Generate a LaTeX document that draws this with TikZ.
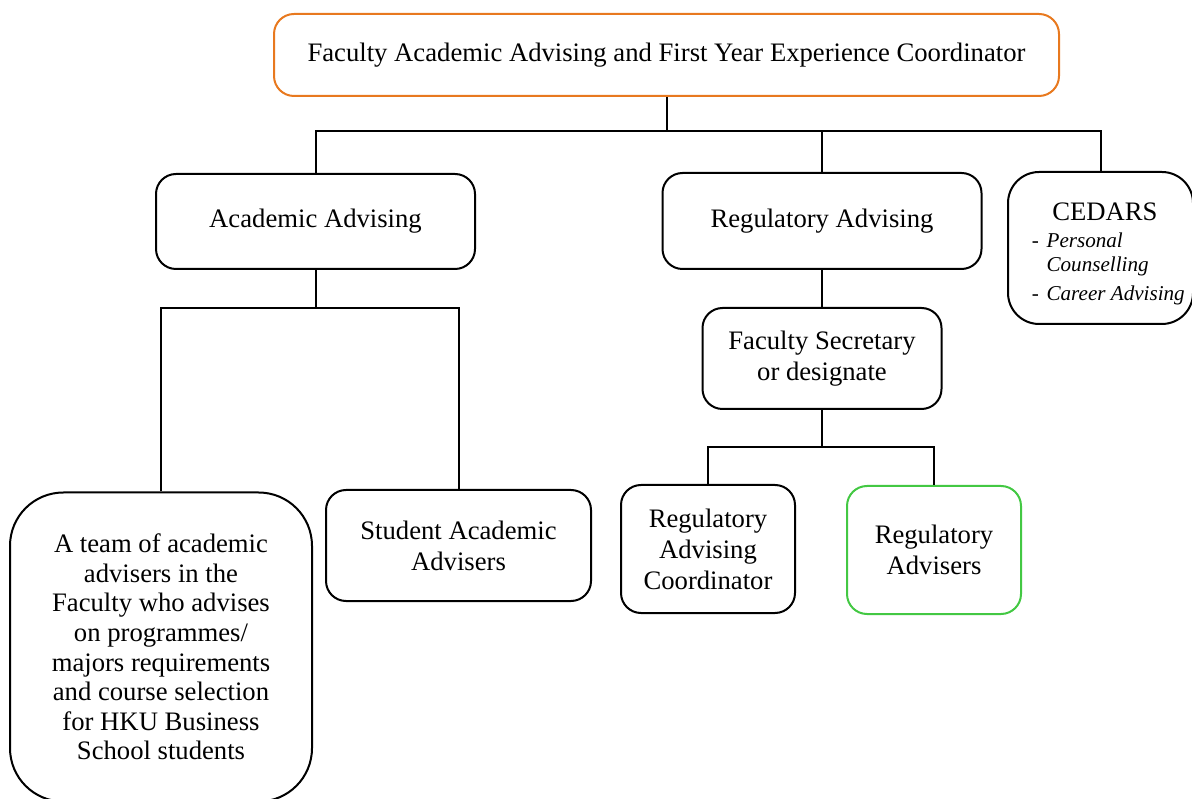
\documentclass[tikz,border=0pt]{standalone}
\usepackage{fontspec}
\setmainfont{Liberation Serif}
\usetikzlibrary{positioning}
\newcommand{\pxl}[1]{#1*0.45pt}
\definecolor{leadorange}{HTML}{E8791F}
\definecolor{advgreen}{HTML}{43C843}
\tikzset{
  orgbox/.style={draw,line width=0.9pt,rounded corners=9pt,align=center,inner sep=2pt,
    font=\fontsize{12}{14}\selectfont},
  link/.style={line width=0.9pt}
}
\begin{document}
\begin{tikzpicture}[x=0.45pt,y=-0.45pt]
\useasboundingbox(0,0)rectangle(1192,799);
% top of the chart
\node[orgbox,draw=leadorange,minimum width=\pxl{785},minimum height=\pxl{82}](lead)at(666.5,55)
  {Faculty Academic Advising and First Year Experience Coordinator};
\node[orgbox,minimum width=\pxl{319},minimum height=\pxl{95}](acad)at(315.5,221.5){Academic Advising};
\node[orgbox,minimum width=\pxl{319},minimum height=\pxl{96}](reg)at(822,221){Regulatory Advising};
\node[orgbox,rounded corners=14pt,minimum width=\pxl{185},minimum height=\pxl{152}](cedars)at(1100.5,248)
  {\rule{0pt}{14.5pt}\hspace*{4pt}CEDARS\\[-2pt]\hspace*{7pt}{\fontsize{9.5}{11}\selectfont\begin{tabular}[t]{@{}l@{\hspace{3.5pt}}l@{}}
  -&\itshape Personal\\ &\itshape Counselling\\[2pt] -&\itshape Career Advising\end{tabular}}};
% academic side
\node[orgbox,rounded corners=24pt,minimum width=\pxl{302},minimum height=\pxl{309},
  font=\fontsize{12}{13.3}\selectfont](team)at(161,647)
  {A team of academic\\advisers in the\\Faculty who advises\\on programmes/\\majors requirements\\and course selection\\for HKU Business\\School students};
\node[orgbox,minimum width=\pxl{265},minimum height=\pxl{111}](student)at(458.5,545.5){Student Academic\\Advisers};
% regulatory side
\node[orgbox,minimum width=\pxl{239},minimum height=\pxl{101}](sec)at(822,358.5){Faculty Secretary\\or designate};
\node[orgbox,minimum width=\pxl{174},minimum height=\pxl{128}](coord)at(708,549){Regulatory\\Advising\\Coordinator};
\node[orgbox,draw=advgreen,minimum width=\pxl{174},minimum height=\pxl{128}](advs)at(934,550){Regulatory\\Advisers};
% connectors
\coordinate(hubtop)at(666.5,131);
\coordinate(hubacad)at(315.5,308);
\coordinate(hubsec)at(822,447);
\draw[link](lead.south)--(hubtop);
\draw[link](acad.north)|-(hubtop)-|(cedars.north);
\draw[link](reg.north)--(reg.north|-hubtop);
\draw[link](acad.south)--(hubacad);
\draw[link](team.north)|-(hubacad)-|(student.north);
\draw[link](reg.south)--(sec.north);
\draw[link](sec.south)--(hubsec);
\draw[link](coord.north)|-(hubsec)-|(advs.north);
\end{tikzpicture}
\end{document}
